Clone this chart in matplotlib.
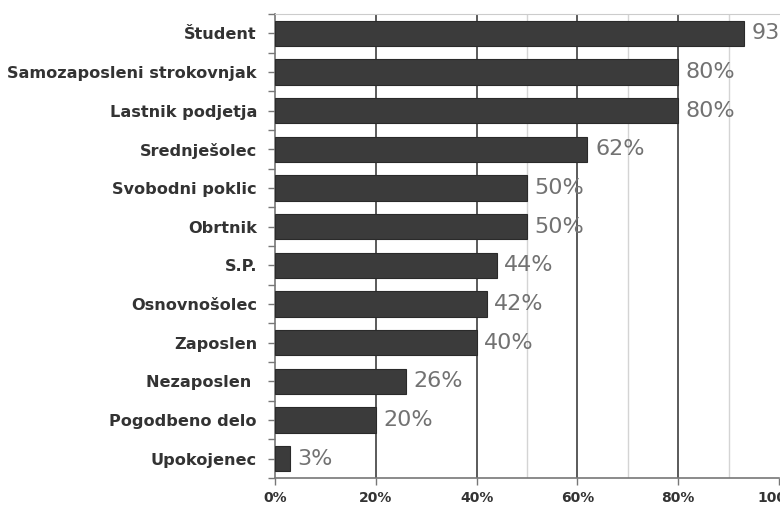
import matplotlib.pyplot as plt
from matplotlib.ticker import FixedLocator

categories = ['Študent', 'Samozaposleni strokovnjak', 'Lastnik podjetja', 'Srednješolec',
              'Svobodni poklic', 'Obrtnik', 'S.P.', 'Osnovnošolec', 'Zaposlen',
              'Nezaposlen ', 'Pogodbeno delo', 'Upokojenec']
values = [93, 80, 80, 62, 50, 50, 44, 42, 40, 26, 20, 3]
x_ticks = [0, 20, 40, 60, 80, 100]
x_labels = ['0%', '20%', '40%', '60%', '80%', '100%']
minor_lines = [50, 70, 90]

fig = plt.figure(figsize=(7.8, 5.07), dpi=100)
ax = fig.add_axes([275 / 780, 1 - 478 / 507, 504 / 780, 464 / 507])

n = len(categories)
ypos = list(range(n))
ax.barh(ypos, values, height=0.65, color='#3b3b3b', edgecolor='#2a2a2a', linewidth=0.8, zorder=3)

ax.set_ylim(n - 0.5, -0.5)
ax.set_xlim(0, 100)

# gridlines
for g in x_ticks[1:-1]:
    ax.axvline(g, color='#5a5a5a', linewidth=1.4, zorder=1)
for g in minor_lines:
    ax.axvline(g, color='#d4d4d4', linewidth=1.0, zorder=1)

for y, v in zip(ypos, values):
    ax.text(v + 1.5, y, f'{v}%', va='center', ha='left', fontsize=16,
            color='#727272', zorder=4, clip_on=False)

ax.set_yticks(ypos)
ax.set_yticklabels(categories, fontsize=11.6, fontweight='bold', color='#333333')
ax.yaxis.set_minor_locator(FixedLocator([i - 0.5 for i in range(n + 1)]))
ax.tick_params(axis='y', which='both', direction='out', length=5, color='#777777', width=1, pad=8)

ax.set_xticks(x_ticks)
ax.set_xticklabels(x_labels, fontsize=10, fontweight='bold', color='#333333')
ax.tick_params(axis='x', direction='out', length=5, color='#777777', width=1, pad=4)

ax.spines['top'].set_color('#cccccc')
ax.spines['right'].set_visible(False)
ax.spines['left'].set_color('#777777')
ax.spines['bottom'].set_color('#777777')
ax.spines['left'].set_linewidth(1.2)
ax.spines['bottom'].set_linewidth(1.2)

fig.savefig('out.png', dpi=100)
